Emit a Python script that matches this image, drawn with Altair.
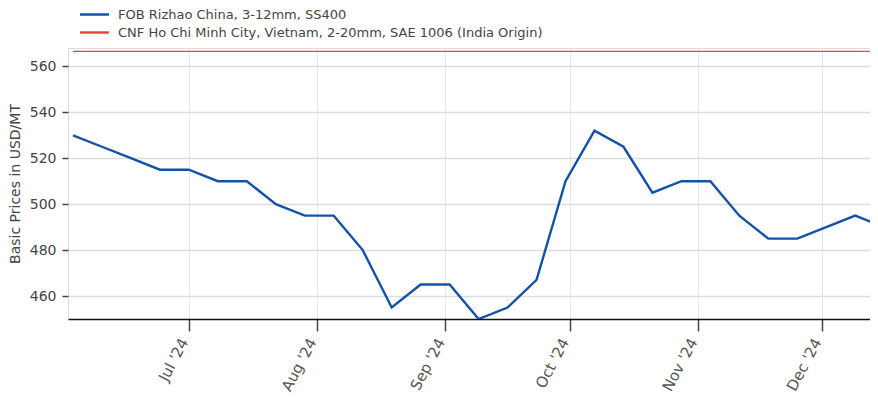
import altair as alt
import pandas as pd

dates = ["2024-06-03", "2024-06-10", "2024-06-17", "2024-06-24", "2024-07-01",
         "2024-07-08", "2024-07-15", "2024-07-22", "2024-07-29", "2024-08-05",
         "2024-08-12", "2024-08-19", "2024-08-26", "2024-09-02", "2024-09-09",
         "2024-09-16", "2024-09-23", "2024-09-30", "2024-10-07", "2024-10-14",
         "2024-10-21", "2024-10-28", "2024-11-04", "2024-11-11", "2024-11-18",
         "2024-11-25", "2024-12-02", "2024-12-09", "2024-12-16"]
fob_rizhao = [530, 525, 520, 515, 515, 510, 510, 500, 495, 495,
              480, 455, 465, 465, 450, 455, 467, 510, 532, 525,
              505, 510, 510, 495, 485, 485, 490, 495, 490]
cnf_hcmc = [566.5] * len(dates)

series_names = ["FOB Rizhao China, 3-12mm, SS400",
                "CNF Ho Chi Minh City, Vietnam, 2-20mm, SAE 1006 (India Origin)"]
series_colors = ["#1452a6", "#e8463e"]
series_widths = [2.4, 1.3]

month_ticks = ["2024-07-01", "2024-08-01", "2024-09-01", "2024-10-01",
               "2024-11-01", "2024-12-01"]
y_ticks = [460, 480, 500, 520, 540, 560]

rows = []
for d, v in zip(dates, fob_rizhao):
    rows.append({"date": d, "value": v, "series": series_names[0]})
for d, v in zip(dates, cnf_hcmc):
    rows.append({"date": d, "value": v, "series": series_names[1]})
df = pd.DataFrame(rows)

def utc_dt(s, hours=0):
    y, m, d = (int(p) for p in s.split("-"))
    return alt.DateTime(year=y, month=m, date=d, hours=hours, utc=True)

x_domain = [utc_dt("2024-06-01", 19), utc_dt("2024-12-14", 12)]

FONT = "DejaVu Sans"

x_enc = alt.X("date:T",
              scale=alt.Scale(type="utc", domain=x_domain),
              axis=alt.Axis(values=[utc_dt(t) for t in month_ticks],
                            format="%b '%y", formatType="time",
                            labelAngle=-62, labelFontSize=15, labelColor="#555555",
                            labelFont=FONT, labelPadding=8, labelOffset=-5,
                            tickSize=12, tickWidth=1.5, tickColor="#444444",
                            domainColor="#111111", domainWidth=1.5,
                            grid=True, gridColor="#e6e6e6", gridWidth=1,
                            title=None))
y_enc = alt.Y("value:Q",
              scale=alt.Scale(domain=[450, 568], nice=False, zero=False),
              axis=alt.Axis(values=y_ticks, labelFontSize=14, labelColor="#444444",
                            labelFont=FONT, labelPadding=6,
                            tickSize=6, tickWidth=1.5, tickColor="#444444",
                            domain=False, grid=True, gridColor="#dddddd", gridWidth=1.4,
                            title="Basic Prices in USD/MT", titleFont=FONT,
                            titleFontSize=14, titleFontWeight="normal",
                            titleColor="#444444", titlePadding=7))
color_enc = alt.Color("series:N",
                      scale=alt.Scale(domain=series_names, range=series_colors),
                      legend=alt.Legend(title=None, orient="none",
                                        legendX=18, legendY=-42,
                                        symbolType="M-2,0H2", symbolSize=210,
                                        symbolStrokeWidth=2.5,
                                        labelFont=FONT, labelFontSize=13,
                                        labelColor="#444444", labelOffset=15,
                                        labelLimit=0,
                                        rowPadding=2, padding=0))

# Blue series carries the shared colour scale (and so the legend with both entries)
blue = alt.Chart(df).transform_filter(
    alt.datum.series == series_names[0]
).mark_line(clip=True, strokeWidth=series_widths[0]).encode(
    x=x_enc, y=y_enc, color=color_enc)

# Red series drawn thinner, with its colour from the same palette list
red = alt.Chart(df).transform_filter(
    alt.datum.series == series_names[1]
).mark_line(clip=True, strokeWidth=series_widths[1]).encode(
    x=alt.X("date:T"), y=alt.Y("value:Q"), color=alt.value(series_colors[1]))

chart = alt.layer(red, blue).properties(
    width=810, height=271,
    autosize=alt.AutoSizeParams(type="none"),
    padding={"left": 60, "top": 40, "right": -8, "bottom": 82},
).configure_view(stroke=None).configure(background="white")

chart.save("out.html", embed_options={"renderer": "svg", "actions": False})
